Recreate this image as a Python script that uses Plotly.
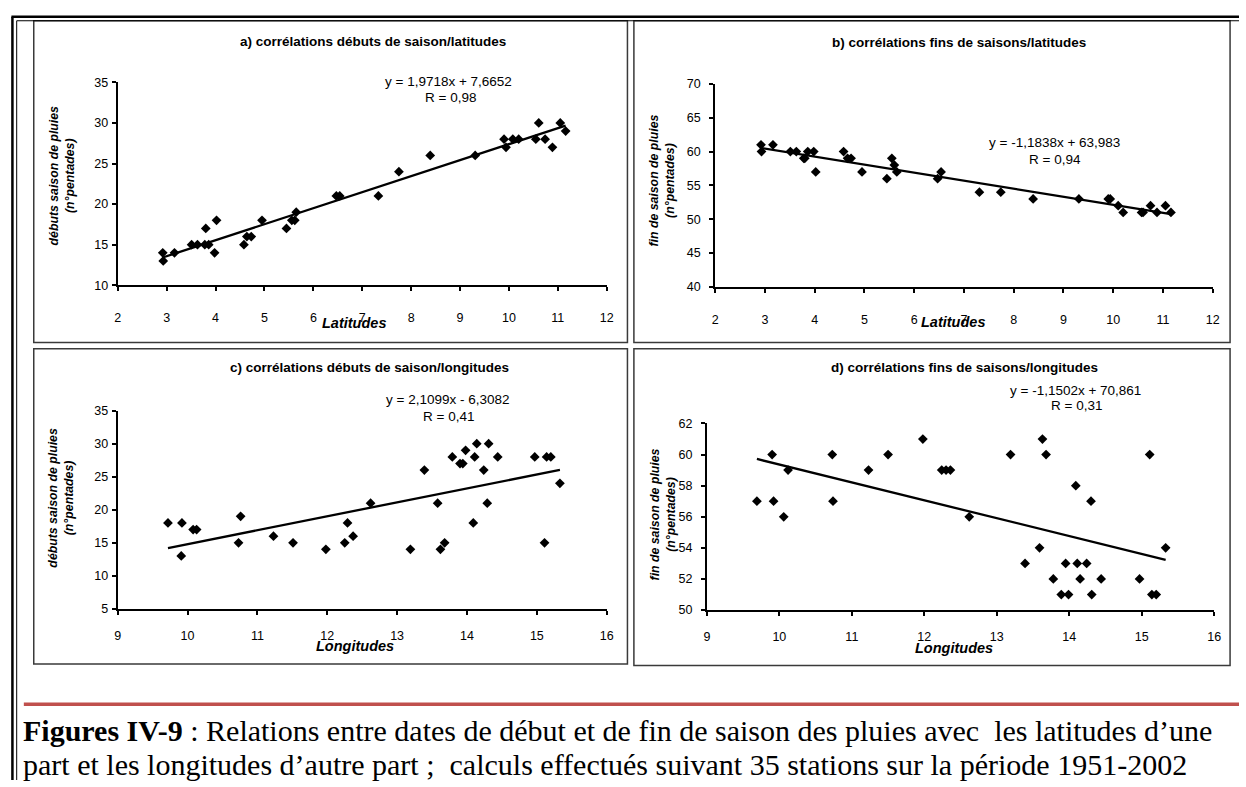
import plotly.graph_objects as go

# figure size in pixels
W, H = 1246, 787

# a) débuts de saison vs latitudes
lat_a = [2.92, 2.93, 3.16, 3.51, 3.63, 3.78, 3.80, 3.86, 3.98, 4.02, 4.58, 4.64, 4.73, 4.95,
         5.45, 5.56, 5.62, 5.65, 6.47, 6.54, 7.33, 7.75, 8.39, 9.31, 9.90, 9.94, 10.08, 10.20,
         10.55, 10.61, 10.74, 10.89, 11.05, 11.16]
debut_a = [14, 13, 14, 15, 15, 15, 17, 15, 14, 18, 15, 16, 16, 18,
           17, 18, 18, 19, 21, 21, 21, 24, 26, 26, 28, 27, 28, 28,
           28, 30, 28, 27, 30, 29]

# b) fins de saison vs latitudes
lat_b = [2.92, 2.93, 3.16, 3.51, 3.63, 3.78, 3.80, 3.86, 3.98, 4.02, 4.58, 4.66, 4.73, 4.95,
         5.45, 5.55, 5.60, 5.65, 6.47, 6.54, 7.31, 7.74, 8.39, 9.31, 9.90, 9.94, 10.10, 10.20,
         10.57, 10.60, 10.75, 10.88, 11.05, 11.16]
fin_b = [61, 60, 61, 60, 60, 59, 59, 60, 60, 57, 60, 59, 59, 57,
         56, 59, 58, 57, 56, 57, 54, 54, 53, 53, 53, 53, 52, 51,
         51, 51, 52, 51, 52, 51]

# c) débuts de saison vs longitudes
lon_c = [9.72, 9.91, 9.92, 10.08, 10.13, 10.73, 10.76, 11.23, 11.51, 11.98,
         12.25, 12.29, 12.37, 12.62, 13.19, 13.39, 13.58, 13.62, 13.68, 13.79,
         13.90, 13.94, 13.98, 14.09, 14.11, 14.14, 14.24, 14.29, 14.31, 14.44,
         14.97, 15.11, 15.14, 15.20, 15.33]
debut_c = [18, 13, 18, 17, 17, 15, 19, 16, 15, 14,
           15, 18, 16, 21, 14, 26, 21, 14, 15, 28,
           27, 27, 29, 18, 28, 30, 26, 21, 30, 28,
           28, 15, 28, 28, 24]

# d) fins de saison vs longitudes
lon_d = [9.69, 9.90, 9.92, 10.06, 10.12, 10.73, 10.74, 11.23, 11.50, 11.98,
         12.24, 12.30, 12.36, 12.62, 13.19, 13.39, 13.59, 13.63, 13.68, 13.78,
         13.89, 13.95, 13.99, 14.09, 14.11, 14.15, 14.24, 14.30, 14.31, 14.44,
         14.97, 15.11, 15.14, 15.20, 15.33]
fin_d = [57, 60, 57, 56, 59, 60, 57, 59, 60, 61,
         59, 59, 59, 56, 60, 53, 54, 61, 60, 52,
         51, 53, 51, 58, 53, 52, 53, 57, 51, 52,
         52, 60, 51, 51, 54]

# droites de régression (Excel)
slopes = [1.9718, -1.1838, 2.1099, -1.1502]
intercepts = [7.6652, 63.983, -6.3082, 70.861]
equations = ["y = 1,9718x + 7,6652", "y = -1,1838x + 63,983",
             "y = 2,1099x - 6,3082", "y = -1,1502x + 70,861"]
r_labels = ["R = 0,98", "R = 0,94", "R = 0,41", "R = 0,31"]

titles = ["a) corrélations débuts de saison/latitudes",
          "b) corrélations fins de saisons/latitudes",
          "c) corrélations débuts de saison/longitudes",
          "d) corrélations fins de saisons/longitudes"]
x_titles = ["Latitudes", "Latitudes", "Longitudes", "Longitudes"]
y_titles = ["débuts saison de pluies<br>(n°pentades)",
            "fin de saison de pluies<br>(n°pentades)",
            "débuts saison de pluies<br>(n°pentades)",
            "fin de saison de pluies<br>(n°pentades)"]
x_ranges = [[2, 12], [2, 12], [9, 16], [9, 16]]
y_ranges = [[10, 35], [40, 70], [5, 35], [50, 62]]
y_dticks = [5, 5, 5, 2]

caption_1 = ("<b>Figures IV-9</b> : Relations entre dates de début et de fin de saison des pluies "
             "avec  les latitudes d’une")
caption_2 = ("part et les longitudes d’autre part ;  calculs effectués suivant 35 stations "
             "sur la période 1951-2002")

series = [(lat_a, debut_a), (lat_b, fin_b), (lon_c, debut_c), (lon_d, fin_d)]


def px(x):
    return x / W


def py(y):
    return 1 - y / H


# pixel layout of each panel: plot area, box, text positions
panels = [
    dict(plot=(115.7, 608.6, 76.7, 283.3), box=(31, 629.5, 14, 341.5), title=(373, 35),
         eq=(449, 76), r=(451, 92), xt=(354, 322), yt=(59, 172), xstand=16, ystand=1),
    dict(plot=(718, 1219.5, 78.3, 285), box=(636, 1237, 14, 341.5), title=(964, 36),
         eq=(1060, 138), r=(1061, 155), xt=(958, 321), yt=(664, 177), xstand=16, ystand=6),
    dict(plot=(115.6, 608.6, 411, 612.7), box=(31, 629.5, 348, 669), title=(369, 367),
         eq=(448, 400), r=(449, 417), xt=(355, 651), yt=(59, 500), xstand=10, ystand=1),
    dict(plot=(709.6, 1221, 424, 614), box=(636, 1237, 348, 670.5), title=(969, 367),
         eq=(1081, 390), r=(1082, 406), xt=(959, 653), yt=(665, 517), xstand=10, ystand=6),
]

sans = "Liberation Sans, Arial, sans-serif"
serif = "Liberation Serif, Times New Roman, serif"

fig = go.Figure()
annotations = []
shapes = []
layout_axes = {}

for i, (xs, ys) in enumerate(series):
    n = "" if i == 0 else str(i + 1)
    p = panels[i]
    x0, x1, y0, y1 = p["plot"]

    fig.add_trace(go.Scatter(x=xs, y=ys, mode="markers", xaxis="x" + n, yaxis="y" + n,
                             marker=dict(symbol="diamond", size=7.5, color="black"),
                             showlegend=False))
    line_x = [min(xs), max(xs)]
    line_y = [slopes[i] * v + intercepts[i] for v in line_x]
    fig.add_trace(go.Scatter(x=line_x, y=line_y, mode="lines", xaxis="x" + n, yaxis="y" + n,
                             line=dict(color="black", width=2.3), showlegend=False))

    layout_axes["xaxis" + n] = dict(domain=[px(x0), px(x1)], anchor="y" + n, range=x_ranges[i],
                                   dtick=1, showline=True, linecolor="black", linewidth=2,
                                   ticks="outside", ticklen=4, tickwidth=1.5, tickcolor="black",
                                   showgrid=False, zeroline=False, ticklabelstandoff=p["xstand"],
                                   tickfont=dict(family=sans, size=12.5, color="black"))
    layout_axes["yaxis" + n] = dict(domain=[py(y1), py(y0)], anchor="x" + n, range=y_ranges[i],
                                   dtick=y_dticks[i], showline=True, linecolor="black", linewidth=2,
                                   ticks="outside", ticklen=4, tickwidth=1.5, tickcolor="black",
                                   showgrid=False, zeroline=False, ticklabelstandoff=p["ystand"],
                                   tickfont=dict(family=sans, size=12.5, color="black"))

    bx0, bx1, by0, by1 = p["box"]
    shapes.append(dict(type="rect", xref="paper", yref="paper", x0=px(bx0), x1=px(bx1),
                       y0=py(by1), y1=py(by0), line=dict(color="#3a3a3a", width=1.5)))

    def note(text, pos, size, bold=False, italic=False, angle=0):
        t = text
        if bold:
            t = "<b>" + t + "</b>"
        if italic:
            t = "<i>" + t + "</i>"
        annotations.append(dict(text=t, x=px(pos[0]), y=py(pos[1]), xref="paper", yref="paper",
                                showarrow=False, xanchor="center", yanchor="middle",
                                textangle=angle, font=dict(family=sans, size=size, color="black")))

    note(titles[i], p["title"], 13.5, bold=True)
    note(equations[i], p["eq"], 13.5)
    note(r_labels[i], p["r"], 13.5)
    note(x_titles[i], p["xt"], 14.5, bold=True, italic=True)
    note(y_titles[i], p["yt"], 12.3, bold=True, italic=True, angle=-90)

# cadre double (gauche et haut)
shapes += [
    dict(type="line", xref="paper", yref="paper", x0=px(9.5), x1=px(9.5), y0=py(10), y1=0,
         line=dict(color="black", width=2.5)),
    dict(type="line", xref="paper", yref="paper", x0=px(13.8), x1=px(13.8), y0=py(14), y1=0,
         line=dict(color="black", width=1)),
    dict(type="line", xref="paper", yref="paper", x0=px(8.5), x1=1, y0=py(10), y1=py(10),
         line=dict(color="black", width=2.5)),
    dict(type="line", xref="paper", yref="paper", x0=px(13.8), x1=1, y0=py(14), y1=py(14),
         line=dict(color="black", width=1)),
    # filet rouge au-dessus de la légende
    dict(type="line", xref="paper", yref="paper", x0=px(21), x1=1, y0=py(710), y1=py(710),
         line=dict(color="#C0504D", width=3.5)),
]

annotations.append(dict(text=caption_1, x=px(18), y=py(737), xref="paper", yref="paper",
                        showarrow=False, xanchor="left", yanchor="middle",
                        font=dict(family=serif, size=30, color="black")))
annotations.append(dict(text=caption_2, x=px(18), y=py(771), xref="paper", yref="paper",
                        showarrow=False, xanchor="left", yanchor="middle",
                        font=dict(family=serif, size=30, color="black")))

fig.update_layout(width=W, height=H, margin=dict(l=0, r=0, t=0, b=0),
                  paper_bgcolor="white", plot_bgcolor="white",
                  shapes=shapes, annotations=annotations, **layout_axes)

# no page margin so the figure fills the window exactly
fig.write_html("out.html", config={"displayModeBar": False},
               post_script="document.body.style.margin = '0';")
